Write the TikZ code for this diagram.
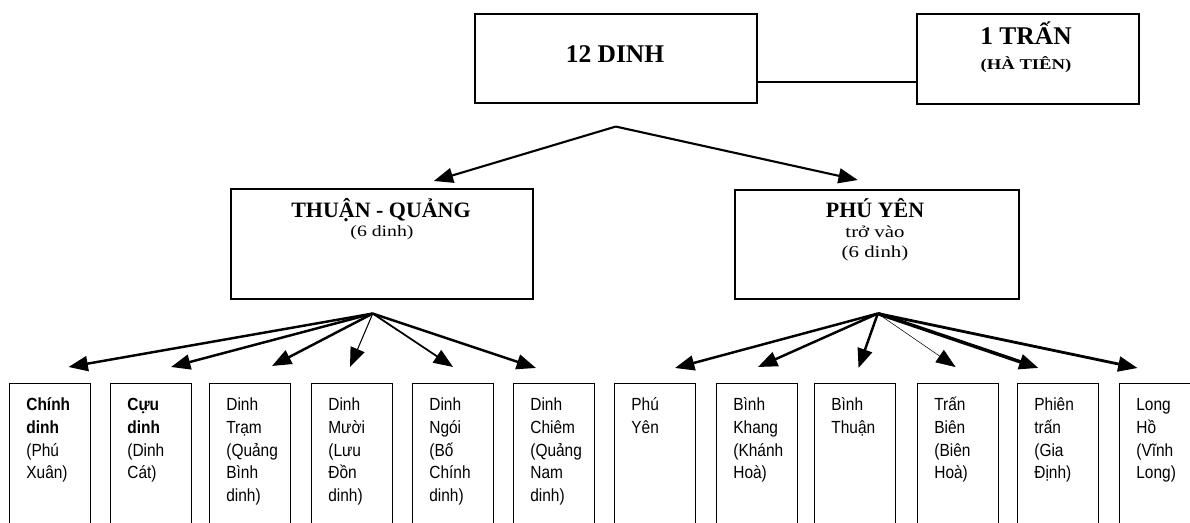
\documentclass[tikz,border=0pt]{standalone}
\usepackage{fontspec}
\setmainfont{Liberation Serif}
\setsansfont{Liberation Sans}
\newfontfamily\leaffont[FakeStretch=0.88]{Liberation Sans}
\newfontfamily\widefont[FakeStretch=1.25]{Liberation Serif}
\usetikzlibrary{arrows.meta,calc}

\begin{document}
\begin{tikzpicture}[x=0.02cm,y=-0.02cm,
  topbox/.style={draw,line width=0.9pt,inner sep=0pt,anchor=north west},
  leafbox/.style={draw,line width=0.6pt,inner sep=0pt,anchor=north west,
    minimum width=1.62cm,minimum height=3.4cm},
  leaftext/.style={anchor=north west,inner sep=0pt,align=left,
    font=\leaffont\fontsize{10}{13}\selectfont},
  headtext/.style={anchor=base,inner sep=0pt,font=\bfseries\fontsize{14.5}{17}\selectfont},
  midtext/.style={anchor=base,inner sep=0pt,font=\bfseries\fontsize{12.5}{15}\selectfont},
  subtext/.style={anchor=base,inner sep=0pt,font=\widefont\fontsize{9.5}{12}\selectfont},
  arr/.style={-{Triangle[length=11pt,width=8.5pt]},line width=1.3pt},
]
\useasboundingbox (0,0) rectangle (1190,523);
\clip (0,0) rectangle (1190,523);

% top level
\node[topbox,minimum width=5.64cm,minimum height=1.78cm] (top) at (474,13) {};
\node[topbox,minimum width=4.44cm,minimum height=1.80cm] (tran) at (916,13) {};
\node[headtext] (topT) at (615,63) {12 DINH};
\node[headtext] (tranT) at (1026,45) {1 TRẤN};
\node[subtext,font=\widefont\bfseries\fontsize{8.5}{10}\selectfont] (tranS) at (1026,70) {(HÀ TIÊN)};
\draw[line width=0.8pt] ($(top.north east)+(0,69)$) -- ($(tran.north west)+(0,69)$);

% second level
\node[topbox,minimum width=6.04cm,minimum height=2.2cm] (tq) at (230,188) {};
\node[topbox,minimum width=5.68cm,minimum height=2.18cm] (py) at (734,189) {};
\node[midtext] (tqT) at (381,218) {THUẬN - QUẢNG};
\node[subtext,font=\widefont\fontsize{9}{11}\selectfont] (tqS) at (382,237) {(6 dinh)};
\node[midtext] (pyT) at (875,218) {PHÚ YÊN};
\node[subtext] (pyS1) at (875,238) {trở vào};
\node[subtext] (pyS2) at (875,258) {(6 dinh)};

\coordinate (apex) at ($(top.south)+(0,23)$);
\draw[arr,line width=1.2pt] (apex) -- ($(tq.north)+(52,-7)$);
\draw[arr,line width=1.2pt] (apex) -- ($(py.north)+(-19,-9)$);

% leaf boxes
\foreach \n/\x in {b1/9,b2/110,b3/209,b4/311,b5/412,b6/513,
                   b7/614,b8/716,b9/814,b10/917,b11/1017,b12/1119}
  \node[leafbox] (\n) at (\x,383) {};

\node[leaftext] (t1) at ($(b1.north west)+(17,11)$) {\strut\textbf{Chính}\\\textbf{dinh}\\(Phú\\Xuân)};
\node[leaftext] (t2) at ($(b2.north west)+(17,11)$) {\strut\textbf{Cựu}\\\textbf{dinh}\\(Dinh\\Cát)};
\node[leaftext] (t3) at ($(b3.north west)+(17,11)$) {\strut Dinh\\Trạm\\(Quảng\\Bình\\dinh)};
\node[leaftext] (t4) at ($(b4.north west)+(17,11)$) {\strut Dinh\\Mười\\(Lưu\\Đồn\\dinh)};
\node[leaftext] (t5) at ($(b5.north west)+(17,11)$) {\strut Dinh\\Ngói\\(Bố\\Chính\\dinh)};
\node[leaftext] (t6) at ($(b6.north west)+(17,11)$) {\strut Dinh\\Chiêm\\(Quảng\\Nam\\dinh)};
\node[leaftext] (t7) at ($(b7.north west)+(17,11)$) {\strut Phú\\Yên};
\node[leaftext] (t8) at ($(b8.north west)+(17,11)$) {\strut Bình\\Khang\\(Khánh\\Hoà)};
\node[leaftext] (t9) at ($(b9.north west)+(17,11)$) {\strut Bình\\Thuận};
\node[leaftext] (t10) at ($(b10.north west)+(17,11)$) {\strut Trấn\\Biên\\(Biên\\Hoà)};
\node[leaftext] (t11) at ($(b11.north west)+(17,11)$) {\strut Phiên\\trấn\\(Gia\\Định)};
\node[leaftext] (t12) at ($(b12.north west)+(17,11)$) {\strut Long\\Hồ\\(Vĩnh\\Long)};

% fans
\coordinate (lf) at ($(tq.south)+(-9,14)$);
\coordinate (rf) at ($(py.south)+(1,14)$);

\draw[arr,line width=1.4pt] (lf) -- ($(b1.north)+(18.5,-16)$);
\draw[arr,line width=1.4pt] (lf) -- ($(b2.north)+(20,-16)$);
\draw[arr,line width=1.4pt] (lf) -- ($(b3.north)+(22,-17)$);
\draw[arr,line width=0.6pt] (lf) -- ($(b4.north)+(-2,-16)$);
\draw[arr,line width=1.0pt] (lf) -- ($(b5.north)+(0,-16)$);
\draw[arr,line width=1.4pt] (lf) -- ($(b6.north)+(-18,-15)$);

\draw[arr,line width=1.4pt] (rf) -- ($(b7.north)+(20,-15)$);
\draw[arr,line width=1.4pt] (rf) -- ($(b8.north)+(1,-16)$);
\draw[arr,line width=1.4pt] (rf) -- ($(b9.north)+(3.5,-15)$);
\draw[arr,line width=0.3pt] (rf) -- ($(b10.north)+(-2.5,-16)$);
\draw[arr,line width=2.0pt] (rf) -- ($(b11.north)+(-19.5,-15)$);
\draw[arr,line width=1.6pt] (rf) -- ($(b12.north)+(-22.5,-15)$);
\end{tikzpicture}
\end{document}
